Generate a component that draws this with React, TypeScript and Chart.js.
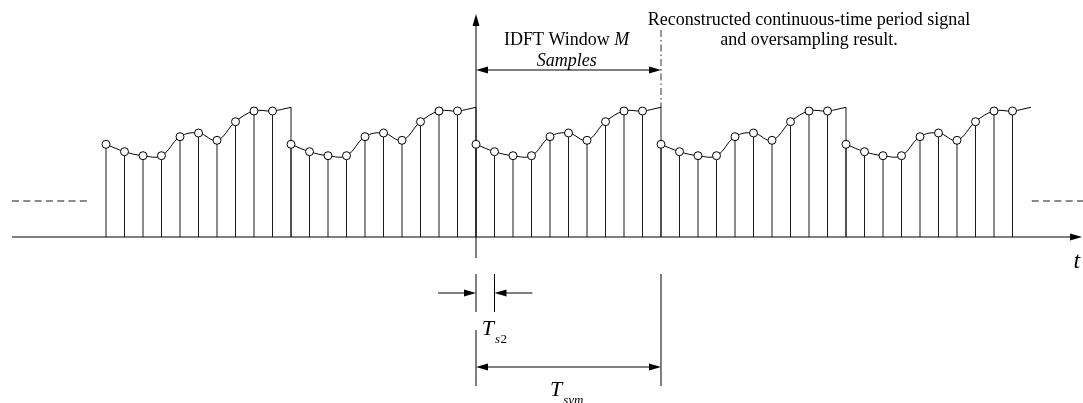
import React, { useEffect, useRef } from "react";
import { Chart, registerables } from "chart.js";

Chart.register(...registerables);

// ---- data (time in sample units, amplitude in arbitrary units) ----
const periodStarts = [-20, -10, 0, 10, 20];
const samplesPerPeriod = 10;
const sampleValues = [92.7, 85.3, 81.3, 81.3, 100.3, 104, 96.7, 115.3, 126, 126];
const periodEndValue = 129.7;
const dcLevel = 36;
const windowStart = 0;
const windowEnd = 10;
const oversampleStep = 1;

// ---- texts ----
const windowLabel = ["IDFT Window ", "M"];
const windowLabel2 = "Samples";
const reconLabel1 = "Reconstructed continuous-time period signal";
const reconLabel2 = "and oversampling result.";
const axisLabel = "t";
const ts2Label = ["T", "s", "2"];
const tsymLabel = ["T", "sym"];

// ---- view ----
const X_MIN = -476 / 18.5;
const X_MAX = (1083 - 476) / 18.5;
const Y_MIN = -166;
const Y_MAX = 237;
const FONT = '"Liberation Serif", "Times New Roman", serif';

function arrowHead(ctx: CanvasRenderingContext2D, tx: number, ty: number, dx: number, dy: number) {
  const len = 12;
  const half = 3.5;
  const bx = tx - dx * len;
  const by = ty - dy * len;
  const px = -dy;
  const py = dx;
  ctx.beginPath();
  ctx.moveTo(tx, ty);
  ctx.lineTo(bx + px * half, by + py * half);
  ctx.lineTo(bx - px * half, by - py * half);
  ctx.closePath();
  ctx.fill();
}

function line(ctx: CanvasRenderingContext2D, x1: number, y1: number, x2: number, y2: number) {
  ctx.beginPath();
  ctx.moveTo(x1, y1);
  ctx.lineTo(x2, y2);
  ctx.stroke();
}

const diagramPlugin = {
  id: "diagram",
  beforeDatasetsDraw(chart: any) {
    const ctx: CanvasRenderingContext2D = chart.ctx;
    const X = (v: number) => chart.scales.x.getPixelForValue(v);
    const Y = (v: number) => chart.scales.y.getPixelForValue(v);
    ctx.save();
    ctx.strokeStyle = "#000";
    ctx.fillStyle = "#000";
    ctx.lineWidth = 1;
    // time axis
    const tipX = X(32.76);
    line(ctx, X(-25.08), Y(0), tipX - 10, Y(0));
    arrowHead(ctx, tipX, Y(0), 1, 0);
    // vertical axis at window start
    const topY = Y(223);
    line(ctx, X(windowStart), Y(-21), X(windowStart), topY + 10);
    arrowHead(ctx, X(windowStart), topY, 0, -1);
    // DC dashed levels
    ctx.strokeStyle = "#666";
    ctx.lineWidth = 1.5;
    ctx.setLineDash([7, 4.3]);
    line(ctx, X(-25.08), Y(dcLevel), X(-21.03), Y(dcLevel));
    line(ctx, X(30.04), Y(dcLevel), X(32.9), Y(dcLevel));
    // dash-dot window end
    ctx.strokeStyle = "#333";
    ctx.lineWidth = 1;
    ctx.setLineDash([7, 3, 1.5, 3]);
    line(ctx, X(windowEnd), Y(207), X(windowEnd), Y(periodEndValue));
    ctx.restore();
  },
  afterDatasetsDraw(chart: any) {
    const ctx: CanvasRenderingContext2D = chart.ctx;
    const X = (v: number) => chart.scales.x.getPixelForValue(v);
    const Y = (v: number) => chart.scales.y.getPixelForValue(v);
    ctx.save();
    ctx.strokeStyle = "#000";
    ctx.fillStyle = "#000";
    ctx.lineWidth = 1;
    ctx.textBaseline = "alphabetic";

    // IDFT window arrow
    const ay = Y(167);
    line(ctx, X(windowStart) + 10, ay, X(windowEnd) - 10, ay);
    arrowHead(ctx, X(windowStart), ay, -1, 0);
    arrowHead(ctx, X(windowEnd), ay, 1, 0);

    // IDFT label
    ctx.textAlign = "left";
    ctx.font = `18px ${FONT}`;
    const w1 = ctx.measureText(windowLabel[0]).width;
    ctx.font = `italic 18px ${FONT}`;
    const w2 = ctx.measureText(windowLabel[1]).width;
    const sx = X(4.9) - (w1 + w2) / 2;
    ctx.font = `18px ${FONT}`;
    ctx.fillText(windowLabel[0], sx, Y(192));
    ctx.font = `italic 18px ${FONT}`;
    ctx.fillText(windowLabel[1], sx + w1, Y(192));
    ctx.textAlign = "center";
    ctx.fillText(windowLabel2, X(4.9), Y(171));

    // reconstruction label
    ctx.font = `18px ${FONT}`;
    ctx.fillText(reconLabel1, X(18), Y(212));
    ctx.fillText(reconLabel2, X(18), Y(192));

    // axis label
    ctx.textAlign = "left";
    ctx.font = `italic 24px ${FONT}`;
    ctx.fillText(axisLabel, X(32.3), Y(-31));

    // Ts2 marker
    const s0 = X(windowStart);
    const s1 = X(windowStart + oversampleStep);
    line(ctx, s0, Y(-37), s0, Y(-75));
    line(ctx, s1, Y(-37), s1, Y(-75));
    const my = Y(-56);
    line(ctx, X(-2.05), my, s0 - 10, my);
    arrowHead(ctx, s0, my, 1, 0);
    line(ctx, X(3.05), my, s1 + 10, my);
    arrowHead(ctx, s1, my, -1, 0);
    ctx.font = `italic 22px ${FONT}`;
    const tx = X(0.31);
    ctx.fillText(ts2Label[0], tx, Y(-98));
    const tw = ctx.measureText(ts2Label[0]).width;
    ctx.font = `italic 13px ${FONT}`;
    ctx.fillText(ts2Label[1], tx + tw + 1, Y(-106));
    const sw = ctx.measureText(ts2Label[1]).width;
    ctx.font = `13px ${FONT}`;
    ctx.fillText(ts2Label[2], tx + tw + 1 + sw + 0.5, Y(-106));

    // Tsym marker
    const e0 = X(windowStart);
    const e1 = X(windowEnd);
    line(ctx, e0, Y(-93), e0, Y(-149));
    line(ctx, e1, Y(-37), e1, Y(-149));
    const by = Y(-130);
    line(ctx, e0 + 10, by, e1 - 10, by);
    arrowHead(ctx, e0, by, -1, 0);
    arrowHead(ctx, e1, by, 1, 0);
    ctx.font = `italic 22px ${FONT}`;
    const ux = X(4.0);
    ctx.fillText(tsymLabel[0], ux, Y(-159));
    const uw = ctx.measureText(tsymLabel[0]).width;
    ctx.font = `italic 13px ${FONT}`;
    ctx.fillText(tsymLabel[1], ux + uw + 1, Y(-167));

    ctx.restore();
  },
};

export default function App() {
  const canvasRef = useRef<HTMLCanvasElement | null>(null);

  useEffect(() => {
    document.body.style.margin = "0";
    const canvas = canvasRef.current;
    if (!canvas) return;

    const samplePoints = periodStarts.flatMap((p) =>
      sampleValues.map((v, k) => ({ x: p + k, y: v }))
    );
    const boundaryPoints = periodStarts.slice(1).map((p) => ({ x: p, y: periodEndValue }));
    const curveSets = periodStarts.map((p) => ({
      type: "line" as const,
      data: [
        ...sampleValues.map((v, k) => ({ x: p + k, y: v })),
        { x: p + samplesPerPeriod, y: periodEndValue },
      ],
      borderColor: "#000",
      borderWidth: 1,
      pointRadius: 0,
      tension: 0.4,
      fill: false,
      order: 1,
    }));

    const chart = new Chart(canvas, {
      type: "line",
      data: {
        datasets: [
          {
            type: "line",
            data: samplePoints,
            showLine: false,
            pointRadius: 4,
            pointBackgroundColor: "#fff",
            pointBorderColor: "#000",
            pointBorderWidth: 1,
            order: 0,
          } as any,
          ...curveSets,
          {
            type: "bar",
            data: samplePoints,
            backgroundColor: "#1a1a1a",
            barThickness: 1,
            grouped: false,
            inflateAmount: 0,
            order: 2,
          } as any,
          {
            type: "bar",
            data: boundaryPoints,
            backgroundColor: "#1a1a1a",
            barThickness: 1,
            grouped: false,
            inflateAmount: 0,
            order: 3,
          } as any,
        ],
      },
      options: {
        animation: false,
        responsive: false,
        devicePixelRatio: 1,
        layout: { padding: 0, autoPadding: false },
        plugins: { legend: { display: false }, tooltip: { enabled: false } },
        events: [],
        scales: {
          x: { type: "linear", min: X_MIN, max: X_MAX, display: false, offset: false },
          y: { type: "linear", min: Y_MIN, max: Y_MAX, display: false },
        },
      } as any,
      plugins: [diagramPlugin],
    });

    return () => chart.destroy();
  }, []);

  return (
    <div style={{ width: 1083, height: 403, background: "#fff" }}>
      <canvas ref={canvasRef} width={1083} height={403} style={{ display: "block" }} />
    </div>
  );
}
